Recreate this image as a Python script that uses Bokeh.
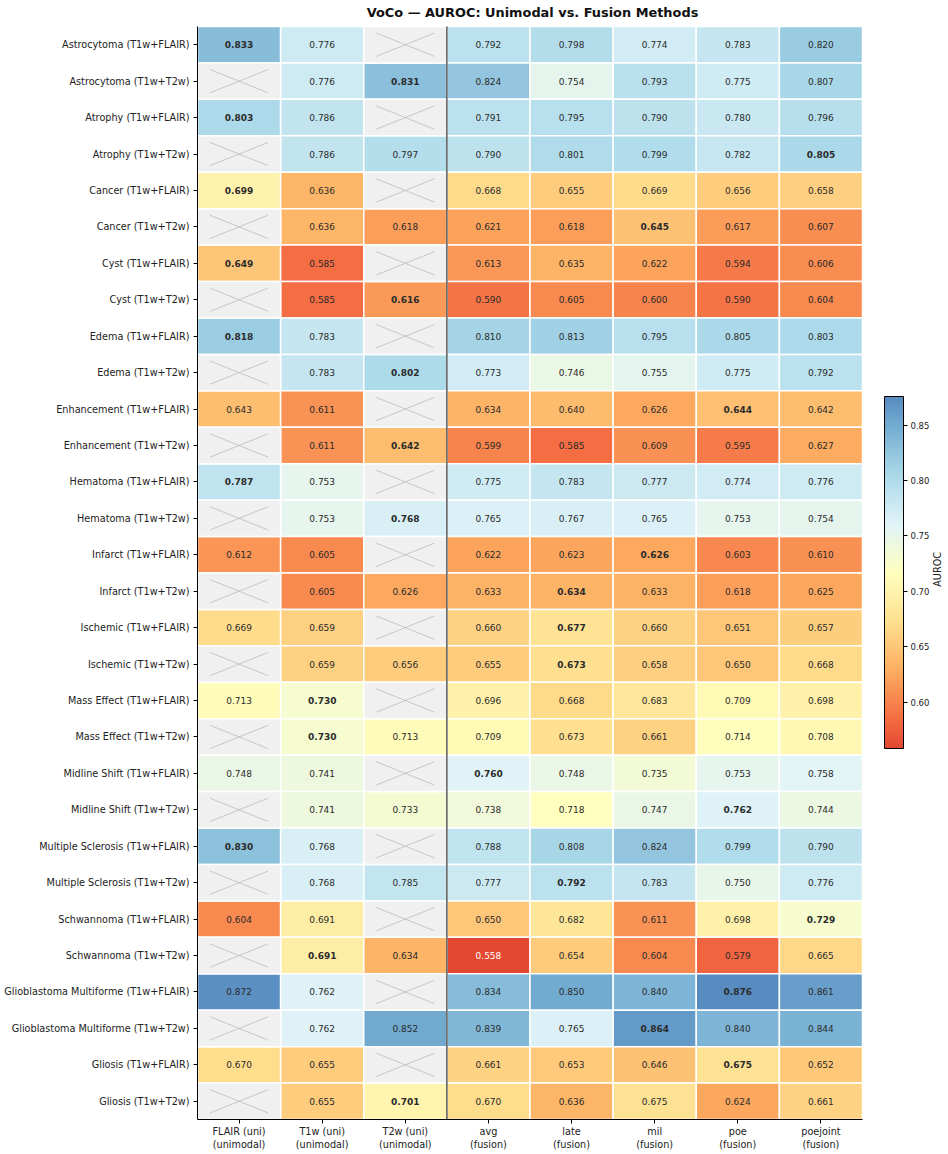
import numpy as np
from bokeh.plotting import figure
from bokeh.models import (ColumnDataSource, LinearColorMapper, ColorBar, FixedTicker,
                          Range1d, Label, PrintfTickFormatter)
from bokeh.transform import transform
from bokeh.embed import file_html
from bokeh.resources import INLINE
from math import pi

# ---- data -------------------------------------------------------------
row_labels = [
    "Astrocytoma (T1w+FLAIR)", "Astrocytoma (T1w+T2w)",
    "Atrophy (T1w+FLAIR)", "Atrophy (T1w+T2w)",
    "Cancer (T1w+FLAIR)", "Cancer (T1w+T2w)",
    "Cyst (T1w+FLAIR)", "Cyst (T1w+T2w)",
    "Edema (T1w+FLAIR)", "Edema (T1w+T2w)",
    "Enhancement (T1w+FLAIR)", "Enhancement (T1w+T2w)",
    "Hematoma (T1w+FLAIR)", "Hematoma (T1w+T2w)",
    "Infarct (T1w+FLAIR)", "Infarct (T1w+T2w)",
    "Ischemic (T1w+FLAIR)", "Ischemic (T1w+T2w)",
    "Mass Effect (T1w+FLAIR)", "Mass Effect (T1w+T2w)",
    "Midline Shift (T1w+FLAIR)", "Midline Shift (T1w+T2w)",
    "Multiple Sclerosis (T1w+FLAIR)", "Multiple Sclerosis (T1w+T2w)",
    "Schwannoma (T1w+FLAIR)", "Schwannoma (T1w+T2w)",
    "Glioblastoma Multiforme (T1w+FLAIR)", "Glioblastoma Multiforme (T1w+T2w)",
    "Gliosis (T1w+FLAIR)", "Gliosis (T1w+T2w)",
]

col_labels = [
    "FLAIR (uni)\n(unimodal)", "T1w (uni)\n(unimodal)", "T2w (uni)\n(unimodal)",
    "avg\n(fusion)", "late\n(fusion)", "mil\n(fusion)", "poe\n(fusion)", "poejoint\n(fusion)",
]

N = None
flair_uni = [0.833, N, 0.803, N, 0.699, N, 0.649, N, 0.818, N, 0.643, N, 0.787, N, 0.612, N,
             0.669, N, 0.713, N, 0.748, N, 0.830, N, 0.604, N, 0.872, N, 0.670, N]
t1w_uni = [0.776, 0.776, 0.786, 0.786, 0.636, 0.636, 0.585, 0.585, 0.783, 0.783, 0.611, 0.611,
           0.753, 0.753, 0.605, 0.605, 0.659, 0.659, 0.730, 0.730, 0.741, 0.741, 0.768, 0.768,
           0.691, 0.691, 0.762, 0.762, 0.655, 0.655]
t2w_uni = [N, 0.831, N, 0.797, N, 0.618, N, 0.616, N, 0.802, N, 0.642, N, 0.768, N, 0.626,
           N, 0.656, N, 0.713, N, 0.733, N, 0.785, N, 0.634, N, 0.852, N, 0.701]
avg = [0.792, 0.824, 0.791, 0.790, 0.668, 0.621, 0.613, 0.590, 0.810, 0.773, 0.634, 0.599,
       0.775, 0.765, 0.622, 0.633, 0.660, 0.655, 0.696, 0.709, 0.760, 0.738, 0.788, 0.777,
       0.650, 0.558, 0.834, 0.839, 0.661, 0.670]
late = [0.798, 0.754, 0.795, 0.801, 0.655, 0.618, 0.635, 0.605, 0.813, 0.746, 0.640, 0.585,
        0.783, 0.767, 0.623, 0.634, 0.677, 0.673, 0.668, 0.673, 0.748, 0.718, 0.808, 0.792,
        0.682, 0.654, 0.850, 0.765, 0.653, 0.636]
mil = [0.774, 0.793, 0.790, 0.799, 0.669, 0.645, 0.622, 0.600, 0.795, 0.755, 0.626, 0.609,
       0.777, 0.765, 0.626, 0.633, 0.660, 0.658, 0.683, 0.661, 0.735, 0.747, 0.824, 0.783,
       0.611, 0.604, 0.840, 0.864, 0.646, 0.675]
poe = [0.783, 0.775, 0.780, 0.782, 0.656, 0.617, 0.594, 0.590, 0.805, 0.775, 0.644, 0.595,
       0.774, 0.753, 0.603, 0.618, 0.651, 0.650, 0.709, 0.714, 0.753, 0.762, 0.799, 0.750,
       0.698, 0.579, 0.876, 0.840, 0.675, 0.624]
poejoint = [0.820, 0.807, 0.796, 0.805, 0.658, 0.607, 0.606, 0.604, 0.803, 0.792, 0.642, 0.627,
            0.776, 0.754, 0.610, 0.625, 0.657, 0.668, 0.698, 0.708, 0.758, 0.744, 0.790, 0.776,
            0.729, 0.665, 0.861, 0.844, 0.652, 0.661]

columns = [flair_uni, t1w_uni, t2w_uni, avg, late, mil, poe, poejoint]
n_unimodal = 3
cbar_ticks = [0.60, 0.65, 0.70, 0.75, 0.80, 0.85]
title_text = "VoCo \u2014 AUROC: Unimodal vs. Fusion Methods"

# ---- colour map: central part of RdYlBu -------------------------------
rdylbu = ["#a50026", "#d73027", "#f46d43", "#fdae61", "#fee090", "#ffffbf",
          "#e0f3f8", "#abd9e9", "#74add1", "#4575b4", "#313695"]
anchors = np.array([[int(h[i:i + 2], 16) for i in (1, 3, 5)] for h in rdylbu], dtype=float)
pos = np.linspace(0, 1, len(rdylbu))
palette = []
for s in np.linspace(0.14, 0.86, 256):
    rgb = [np.interp(s, pos, anchors[:, k]) for k in range(3)]
    palette.append("#%02x%02x%02x" % tuple(int(round(c)) for c in rgb))

all_vals = [v for c in columns for v in c if v is not None]
vmin, vmax = min(all_vals), max(all_vals)
mapper = LinearColorMapper(palette=palette, low=vmin, high=vmax)

# ---- assemble cell tables ---------------------------------------------
n_rows, n_cols = len(row_labels), len(columns)
cells = dict(x=[], y=[], v=[])
na = dict(x=[], y=[])
cross = dict(x0=[], y0=[], x1=[], y1=[])
plain = dict(x=[], y=[], t=[], c=[])
bold = dict(x=[], y=[], t=[], c=[])
for r in range(n_rows):
    row_vals = [columns[c][r] for c in range(n_cols)]
    best = max(v for v in row_vals if v is not None)
    for c, v in enumerate(row_vals):
        x, y = c + 0.5, r + 0.5
        if v is None:
            na["x"].append(x); na["y"].append(y)
            cross["x0"] += [c + 0.15, c + 0.15]; cross["x1"] += [c + 0.85, c + 0.85]
            cross["y0"] += [r + 0.18, r + 0.82]; cross["y1"] += [r + 0.82, r + 0.18]
            continue
        cells["x"].append(x); cells["y"].append(y); cells["v"].append(v)
        color = "white" if (v - vmin) / (vmax - vmin) < 0.05 else "#2b2b2b"
        target = bold if v == best else plain
        target["x"].append(x); target["y"].append(y)
        target["t"].append(f"{v:.3f}"); target["c"].append(color)

FONT = "DejaVu Sans"
col_px = 665 / n_cols                 # pixel width of one heatmap column
row_px = 1093 / n_rows                # pixel height of one heatmap row
frame_w = 948 - 197                   # frame runs to the right edge; colour bar sits inside it
top_pad = 26 / row_px                 # room above the heatmap for the title

p = figure(width=948, height=1154, output_backend="svg", toolbar_location=None,
           title=None,
           x_range=Range1d(0, frame_w / col_px), y_range=Range1d(n_rows, -top_pad),
           min_border_left=197, min_border_right=0, min_border_top=0, min_border_bottom=35)
p.outline_line_color = None
p.grid.visible = False

p.rect("x", "y", 1, 1, source=ColumnDataSource(cells), fill_color=transform("v", mapper),
       line_color="white", line_width=1.5)
p.rect("x", "y", 1, 1, source=ColumnDataSource(na), fill_color="#f0f0f0",
       line_color="white", line_width=1.5)
p.segment("x0", "y0", "x1", "y1", source=ColumnDataSource(cross),
          line_color="#bdbdbd", line_width=0.8)

p.text("x", "y", text="t", source=ColumnDataSource(plain), text_color="c",
       text_font_size="9px", text_align="center", text_baseline="middle",
       text_font={"value": FONT})
p.text("x", "y", text="t", source=ColumnDataSource(bold), text_color="c",
       text_font_size="9px", text_font_style="bold", text_align="center",
       text_baseline="middle", text_font={"value": FONT})

# divider between unimodal and fusion columns
p.segment(x0=[n_unimodal], y0=[0], x1=[n_unimodal], y1=[n_rows],
          line_color="#5a5a5a", line_width=1.5)

# title
p.add_layout(Label(x=(532 - 197) / col_px, y=-(26 - 11.5) / row_px, text=title_text,
                   text_align="center", text_baseline="middle", text_font=FONT,
                   text_font_size="12.9px", text_font_style="bold", text_color="#111111"))

# axes
p.xaxis.ticker = FixedTicker(ticks=[c + 0.5 for c in range(n_cols)])
p.xaxis.major_label_overrides = {c + 0.5: lab for c, lab in enumerate(col_labels)}
p.xaxis.bounds = (0, n_cols)
p.yaxis.ticker = FixedTicker(ticks=[r + 0.5 for r in range(n_rows)])
p.yaxis.major_label_overrides = {r + 0.5: lab for r, lab in enumerate(row_labels)}
p.yaxis.bounds = (0, n_rows)
for ax in (p.xaxis, p.yaxis):
    ax.major_label_text_font = FONT
    ax.major_label_text_font_size = "9.7px"
    ax.major_label_text_color = "#222222"
    ax.major_tick_out = 4
    ax.major_tick_in = 0
    ax.minor_tick_line_color = None
    ax.axis_line_color = "black"
    ax.major_tick_line_color = "black"
    ax.major_label_standoff = 4
p.xaxis.major_label_standoff = 2

# colour bar
cbar = ColorBar(color_mapper=mapper, width=19, height=352, location=(687, 371),
                ticker=FixedTicker(ticks=cbar_ticks),
                formatter=PrintfTickFormatter(format="%.2f"),
                major_label_text_font=FONT, major_label_text_font_size="8.5px",
                major_label_text_color="#222222",
                major_tick_line_color="black", major_tick_out=4, major_tick_in=0,
                bar_line_color="black", bar_line_width=1,
                background_fill_alpha=0, margin=0, padding=0, label_standoff=3)
p.add_layout(cbar, "center")

p.add_layout(Label(x=(937 - 197) / col_px, y=n_rows / 2 - 0.1, text="AUROC", angle=pi / 2,
                   text_align="center", text_baseline="middle",
                   text_font=FONT, text_font_size="9.7px", text_color="#222222"))

open("out.html", "w").write(file_html(p, INLINE))
